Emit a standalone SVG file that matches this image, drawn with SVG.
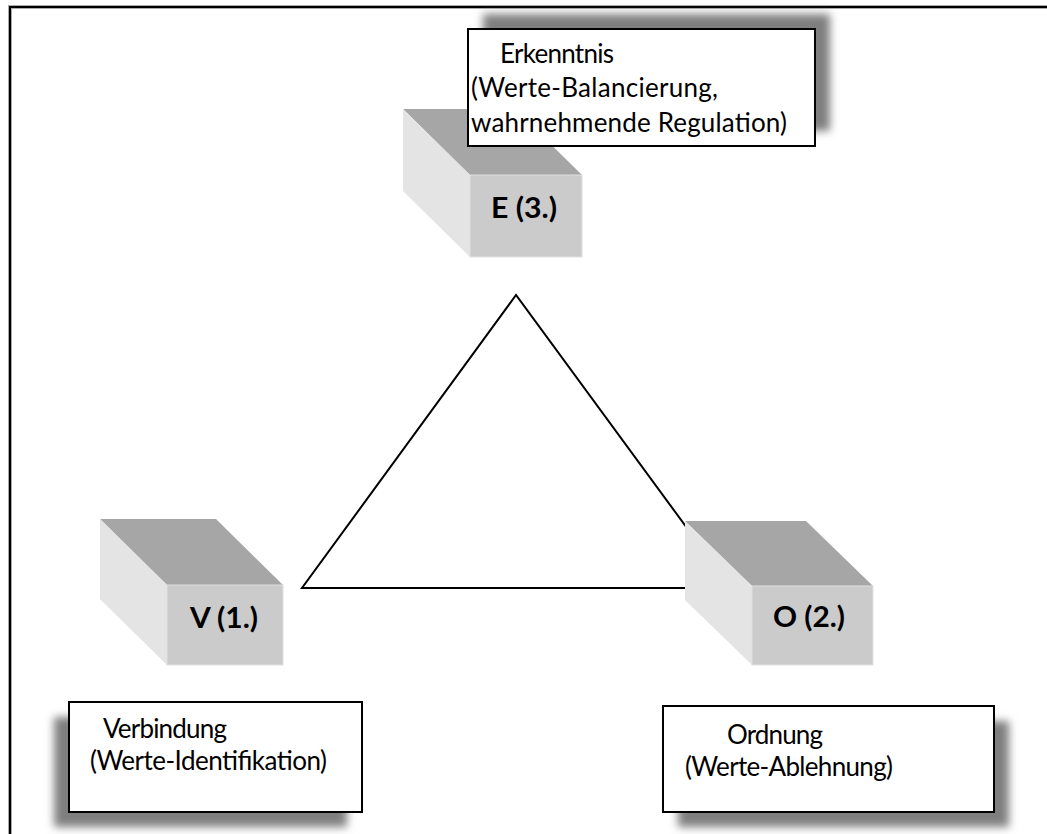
<svg xmlns="http://www.w3.org/2000/svg" width="1047" height="834" viewBox="0 0 1047 834">
<defs>
<style>
.top{fill:#a6a6a6}
.side{fill:#e4e4e4}
.front{fill:#cbcbcb;stroke:#e0e0e0;stroke-width:1}
.lbl{font-family:Lato,"Open Sans",sans-serif;font-weight:bold;font-size:29px;fill:#000}
.txt{font-family:Lato,"Open Sans",sans-serif;font-size:26px;fill:#000}
.box{fill:#fff;stroke:#000;stroke-width:2}
.shadow{fill:#7f7f7f;filter:url(#blur)}
</style>
<filter id="blur" x="-20%" y="-30%" width="140%" height="160%"><feGaussianBlur stdDeviation="4"/></filter>
<clipPath id="clipE"><rect x="469" y="30" width="345" height="108"/></clipPath>
</defs>
<rect width="1047" height="834" fill="#fff"/>
<g id="frame">
<path d="M10,834 V7 H1047" fill="none" stroke="#aaa" stroke-width="4"/>
<path d="M10,834 V7 H1047" fill="none" stroke="#000" stroke-width="2"/>
</g>
<g id="connectors">
<polygon points="516,295 302,588 731,588" fill="none" stroke="#000" stroke-width="2"/>
</g>
<g id="node-E">
<polygon class="top" points="403,109 515,109 582,175 470,175"/>
<polygon class="side" points="403,109 470,175 470,257 403,191"/>
<rect class="front" x="470" y="175" width="112" height="82"/>
<text class="lbl" x="491" y="218" textLength="66" lengthAdjust="spacingAndGlyphs">E (3.)</text>
</g>
<g id="node-V">
<polygon class="top" points="100,519 216,519 283,585 167,585"/>
<polygon class="side" points="100,519 167,585 167,665 100,599"/>
<rect class="front" x="167" y="585" width="116" height="80"/>
<text class="lbl" x="190" y="628" textLength="68" lengthAdjust="spacingAndGlyphs">V (1.)</text>
</g>
<g id="node-O">
<polygon class="top" points="685,521 806,521 873,586 752,586"/>
<polygon class="side" points="685,521 752,586 752,665 685,600"/>
<rect class="front" x="752" y="586" width="121" height="79"/>
<text class="lbl" x="773" y="627" textLength="72" lengthAdjust="spacingAndGlyphs">O (2.)</text>
</g>
<g id="label-E">
<rect class="shadow" x="483" y="14" width="347" height="117"/>
<rect class="box" x="468" y="29" width="347" height="117"/>
<text class="txt" clip-path="url(#clipE)"><tspan x="500" y="63" textLength="114">Erkenntnis</tspan><tspan x="471" y="97" textLength="247">(Werte-Balancierung,</tspan><tspan x="471" y="132" textLength="316">wahrnehmende Regulation)</tspan></text>
</g>
<g id="label-V">
<rect class="shadow" x="54" y="717" width="293" height="110"/>
<rect class="box" x="69" y="702" width="293" height="110"/>
<text class="txt"><tspan x="103" y="738" textLength="124">Verbindung</tspan><tspan x="90" y="770" textLength="237">(Werte-Identifikation)</tspan></text>
</g>
<g id="label-O">
<rect class="shadow" x="678" y="721" width="331" height="106"/>
<rect class="box" x="663" y="706" width="331" height="106"/>
<text class="txt"><tspan x="727" y="744" textLength="96">Ordnung</tspan><tspan x="685" y="776" textLength="208">(Werte-Ablehnung)</tspan></text>
</g>
</svg>
